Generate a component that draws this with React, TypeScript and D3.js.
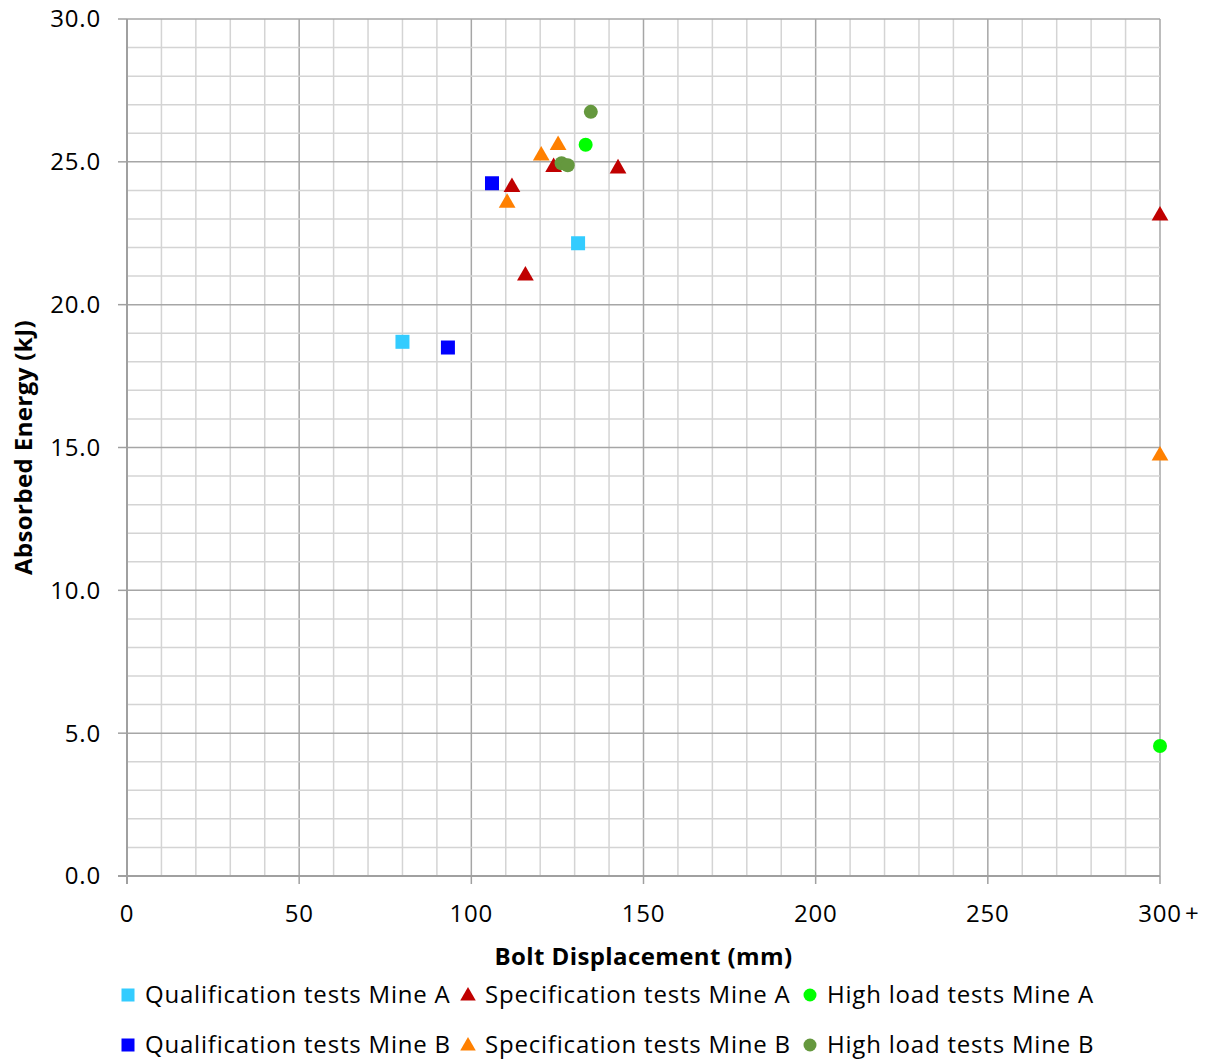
import React from "react";
import * as d3 from "d3";

const qualAx = [80, 131];
const qualAy = [18.7, 22.15];
const qualBx = [93.2, 106.0];
const qualBy = [18.5, 24.25];
const specAx = [111.8, 115.7, 123.9, 142.6, 300];
const specAy = [24.15, 21.05, 24.85, 24.8, 23.15];
const specBx = [110.4, 120.3, 125.2, 300];
const specBy = [23.6, 25.25, 25.62, 14.75];
const highAx = [133.2, 300];
const highAy = [25.6, 4.55];
const highBx = [134.7, 126.2, 128.0];
const highBy = [26.75, 24.95, 24.88];

const xTicks = [0, 50, 100, 150, 200, 250, 300];
const xTickLabels = ["0", "50", "100", "150", "200", "250", "300"];
const yTicks = [0, 5, 10, 15, 20, 25, 30];

const seriesNames = [
  "Qualification tests Mine A",
  "Specification tests Mine A",
  "High load tests Mine A",
  "Qualification tests Mine B",
  "Specification tests Mine B",
  "High load tests Mine B",
];

type Series = { name: string; xs: number[]; ys: number[]; color: string; shape: "square" | "triangle" | "circle" };

const series: Series[] = [
  { name: seriesNames[0], xs: qualAx, ys: qualAy, color: "#33CCFF", shape: "square" },
  { name: seriesNames[1], xs: specAx, ys: specAy, color: "#C00000", shape: "triangle" },
  { name: seriesNames[2], xs: highAx, ys: highAy, color: "#00FF00", shape: "circle" },
  { name: seriesNames[3], xs: qualBx, ys: qualBy, color: "#0000FF", shape: "square" },
  { name: seriesNames[4], xs: specBx, ys: specBy, color: "#FF8000", shape: "triangle" },
  { name: seriesNames[5], xs: highBx, ys: highBy, color: "#65983E", shape: "circle" },
];

const FONT = "'Open Sans', Lato, sans-serif";
const FS = 24;
const LS = 0.8;

function Marker({ shape, color, x, y, size }: { shape: string; color: string; x: number; y: number; size: number }) {
  if (shape === "square") {
    return <rect x={x - size / 2} y={y - size / 2} width={size} height={size} fill={color} />;
  }
  if (shape === "circle") {
    return <circle cx={x} cy={y} r={size / 2} fill={color} />;
  }
  const p = d3.symbol(d3.symbolTriangle, size * size * 0.62)();
  return <path d={p || ""} transform={`translate(${x},${y + 1})`} fill={color} />;
}

export default function App() {
  const W = 1208, H = 1061;
  const left = 127, right = 1160, top = 19, bottom = 876;
  const x = d3.scaleLinear().domain([0, 300]).range([left, right]);
  const y = d3.scaleLinear().domain([0, 30]).range([bottom, top]);

  const xMinor = d3.range(0, 301, 10);
  const yMinor = d3.range(0, 31, 1);

  const legendCols = [128, 468, 810];
  const legendRows = [995, 1045];

  return (
    <svg width={W} height={H} style={{ position: "absolute", left: 0, top: 0, fontFamily: FONT }}>
      <rect width={W} height={H} fill="#fff" />
      {xMinor.map((v) => (
        <line key={"xm" + v} x1={x(v)} x2={x(v)} y1={top} y2={bottom}
          stroke={v % 50 === 0 ? "#A6A6A6" : "#D4D4D4"} strokeWidth={1.5} />
      ))}
      {yMinor.map((v) => (
        <line key={"ym" + v} x1={left} x2={right} y1={y(v)} y2={y(v)}
          stroke={v % 5 === 0 ? "#A6A6A6" : "#D4D4D4"} strokeWidth={1.5} />
      ))}
      {/* axes */}
      <line x1={left} x2={left} y1={top} y2={bottom + 8} stroke="#A0A0A0" strokeWidth={2} />
      <line x1={left - 9} x2={right} y1={bottom} y2={bottom} stroke="#A0A0A0" strokeWidth={2} />
      {yTicks.map((v) => (
        <line key={"yt" + v} x1={left - 9} x2={left} y1={y(v)} y2={y(v)} stroke="#A0A0A0" strokeWidth={1.5} />
      ))}
      {xTicks.map((v) => (
        <line key={"xt" + v} x1={x(v)} x2={x(v)} y1={bottom} y2={bottom + 8} stroke="#A0A0A0" strokeWidth={1.5} />
      ))}
      {/* tick labels */}
      {yTicks.map((v) => (
        <text key={"yl" + v} x={101} y={y(v)} dy="0.35em" textAnchor="end" fontSize={FS} letterSpacing={LS} fill="#000">
          {v.toFixed(1)}
        </text>
      ))}
      {xTicks.map((v, i) => (
        <text key={"xl" + v} x={x(v)} y={914} dy="0.35em" textAnchor="middle" fontSize={FS} letterSpacing={LS} fill="#000">
          {xTickLabels[i]}
        </text>
      ))}
      <text x={x(300) + 25} y={914} dy="0.35em" textAnchor="start" fontSize={FS} fill="#000">+</text>
      {/* axis titles */}
      <text x={(left + right) / 2} y={957} dy="0.35em" textAnchor="middle" fontSize={FS} letterSpacing={0.4}
        fontWeight="bold" fill="#000">
        Bolt Displacement (mm)
      </text>
      <text transform={`translate(24,${(top + bottom) / 2}) rotate(-90)`} dy="0.35em" textAnchor="middle"
        fontSize={FS} letterSpacing={0.4} fontWeight="bold" fill="#000">
        Absorbed Energy (kJ)
      </text>
      {/* data */}
      {series.map((s) =>
        s.xs.map((xv, i) => (
          <Marker key={s.name + i} shape={s.shape} color={s.color} x={x(xv)} y={y(s.ys[i])} size={14} />
        ))
      )}
      {/* legend */}
      {series.map((s, i) => {
        const cx = legendCols[i % 3];
        const cy = legendRows[Math.floor(i / 3)];
        return (
          <g key={"lg" + i}>
            <Marker shape={s.shape} color={s.color} x={cx} y={cy} size={13} />
            <text x={cx + 17} y={cy} dy="0.35em" fontSize={FS} letterSpacing={LS} fill="#000">{s.name}</text>
          </g>
        );
      })}
    </svg>
  );
}
